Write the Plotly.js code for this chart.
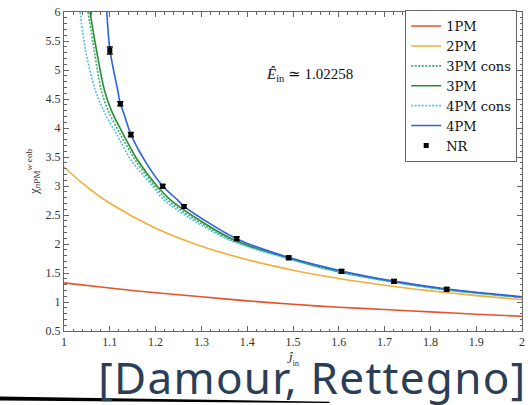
<!DOCTYPE html>
<html>
<head>
<meta charset="utf-8">
<script src="https://cdn.plot.ly/plotly-3.0.1.min.js"></script>
<style>
html,body{margin:0;padding:0;background:#fff;}
#chart{width:532px;height:405px;}
g.annotation[data-index="1"] text.annotation-text{letter-spacing:1.3px;}
</style>
</head>
<body>
<div id="chart"></div>
<script>
// ---- data ----
const pm1_x = [1.0, 1.1, 1.2, 1.3, 1.4, 1.5, 1.6, 1.7, 1.8, 1.9, 2.0];
const pm1_y = [1.33, 1.24, 1.16, 1.09, 1.02, 0.96, 0.91, 0.87, 0.83, 0.79, 0.755];

const pm2_x = [1.0, 1.05, 1.1, 1.2, 1.3, 1.4, 1.5, 1.6, 1.7, 1.8, 1.9, 2.0];
const pm2_y = [3.327, 2.984, 2.702, 2.272, 1.962, 1.730, 1.549, 1.406, 1.289, 1.192, 1.110, 1.040];

const pm3c_x = [1.0524, 1.066, 1.081, 1.097, 1.123, 1.157, 1.198, 1.228, 1.36, 1.49, 1.6, 1.72, 1.836, 2.0];
const pm3c_y = [6.0, 5.34, 4.66, 4.29, 3.89, 3.43, 3.0, 2.744, 2.09, 1.75, 1.52, 1.345, 1.21, 1.08];

const pm3_x = [1.0568, 1.071, 1.088, 1.104, 1.1295, 1.162, 1.203, 1.235, 1.366, 1.49, 1.6, 1.72, 1.836, 2.0];
const pm3_y = [6.0, 5.34, 4.66, 4.29, 3.89, 3.43, 3.0, 2.744, 2.09, 1.755, 1.525, 1.35, 1.215, 1.085];

const pm4c_x = [1.035, 1.047, 1.068, 1.087, 1.115, 1.148, 1.193, 1.2205, 1.355, 1.49, 1.6, 1.72, 1.836, 2.0];
const pm4c_y = [6.0, 5.34, 4.66, 4.29, 3.89, 3.43, 3.0, 2.744, 2.09, 1.745, 1.515, 1.34, 1.205, 1.075];

const pm4_x = [1.0935, 1.1004, 1.117, 1.123, 1.129, 1.146, 1.177, 1.2155, 1.25, 1.262, 1.377, 1.49, 1.606, 1.72, 1.836, 2.0];
const pm4_y = [6.0, 5.34, 4.66, 4.42, 4.29, 3.89, 3.43, 3.0, 2.744, 2.65, 2.09, 1.77, 1.535, 1.36, 1.225, 1.09];

const nr_x = [1.100, 1.123, 1.146, 1.2155, 1.262, 1.377, 1.4906, 1.606, 1.7205, 1.8356];
const nr_y = [5.337, 4.418, 3.887, 2.996, 2.647, 2.093, 1.762, 1.528, 1.356, 1.219];
const nr_err = [0.06, 0.035, 0.035, 0.03, 0.03, 0.03, 0.03, 0.03, 0.03, 0.03];

const xTicks = [1, 1.1, 1.2, 1.3, 1.4, 1.5, 1.6, 1.7, 1.8, 1.9, 2];
const yTicks = [0.5, 1, 1.5, 2, 2.5, 3, 3.5, 4, 4.5, 5, 5.5, 6];

// ---- traces ----
const lineTrace = (x, y, name, color, dash, w) => ({
  x: x, y: y, name: name, type: 'scatter', mode: 'lines',
  line: {color: color, width: w || 1.6, dash: dash || 'solid', shape: 'spline', smoothing: 0.9},
  hoverinfo: 'skip'
});

const traces = [
  lineTrace(pm1_x, pm1_y, '1PM', '#e5532b'),
  lineTrace(pm2_x, pm2_y, '2PM', '#f3ae3a'),
  lineTrace(pm3c_x, pm3c_y, '3PM cons', '#3aad6e', '2px,1.5px', 1.6),
  lineTrace(pm3_x, pm3_y, '3PM', '#2c8a38'),
  lineTrace(pm4c_x, pm4c_y, '4PM cons', '#52bfe9', '2px,1.5px', 1.6),
  lineTrace(pm4_x, pm4_y, '4PM', '#2b62e0'),
  {
    x: nr_x, y: nr_y, name: 'NR', type: 'scatter', mode: 'markers',
    marker: {color: '#000', size: 5, symbol: 'square'},
    error_y: {type: 'data', array: nr_err, visible: true, color: '#000', thickness: 1.6, width: 3}
  }
];

const serif = 'Liberation Serif, DejaVu Serif, serif';

const layout = {
  width: 532, height: 405,
  margin: {l: 64, r: 10, t: 10, b: 74},
  paper_bgcolor: '#fff', plot_bgcolor: '#fff',
  showlegend: true,
  legend: {
    x: 0.745, y: 1.006, xanchor: 'left', yanchor: 'top',
    bgcolor: '#fff', bordercolor: '#666', borderwidth: 1,
    font: {family: 'DejaVu Serif, serif', size: 13, color: '#111'},
    tracegroupgap: 0, itemwidth: 30
  },
  xaxis: {
    range: [1, 2], tickvals: xTicks, ticks: 'inside', ticklen: 5, tickwidth: 1, tickcolor: '#666',
    showline: true, linecolor: '#666', linewidth: 1, mirror: 'allticks', showgrid: false, zeroline: false,
    tickfont: {family: serif, size: 12, color: '#333'},
    minor: {dtick: 0.02, ticks: 'inside', ticklen: 2.5, tickcolor: '#666', showgrid: false},
    title: {text: '<i>Ĵ</i><sub>in</sub>', font: {family: serif, size: 12, color: '#333'}, standoff: 6}
  },
  yaxis: {
    range: [0.5, 6], tickvals: yTicks, ticks: 'inside', ticklen: 5, tickwidth: 1, tickcolor: '#666',
    showline: true, linecolor: '#666', linewidth: 1, mirror: 'allticks', showgrid: false, zeroline: false,
    tickfont: {family: serif, size: 12, color: '#333'},
    minor: {dtick: 0.1, ticks: 'inside', ticklen: 2.5, tickcolor: '#666', showgrid: false},
    title: {text: 'χ<sub><i>n</i>PM</sub><sup><i>w</i> eob</sup>', font: {family: serif, size: 13, color: '#333'}, standoff: 4}
  },
  annotations: [
    {xref: 'paper', yref: 'paper', x: 0.535, y: 0.804, xanchor: 'center', yanchor: 'middle', showarrow: false,
     text: '<i>Ê</i><sub>in</sub> ≃ 1.02258', font: {family: serif, size: 15, color: '#111'}},
    {xref: 'paper', yref: 'paper', x: 0.095, y: -0.143, xanchor: 'left', yanchor: 'middle', showarrow: false,
     text: '[Damour, Rettegno]', font: {family: 'Noto Sans, Open Sans, sans-serif', size: 44, color: '#2b3e55'}}
  ],
  shapes: [
    {type: 'path', xref: 'paper', yref: 'paper', layer: 'below',
     path: 'M -0.14,-0.205 L 0.58,-0.222 L 0.58,-0.226 L -0.14,-0.218 Z',
     fillcolor: '#000', line: {width: 0}}
  ]
};

Plotly.newPlot('chart', traces, layout, {displayModeBar: false, staticPlot: true});
</script>
</body>
</html>
